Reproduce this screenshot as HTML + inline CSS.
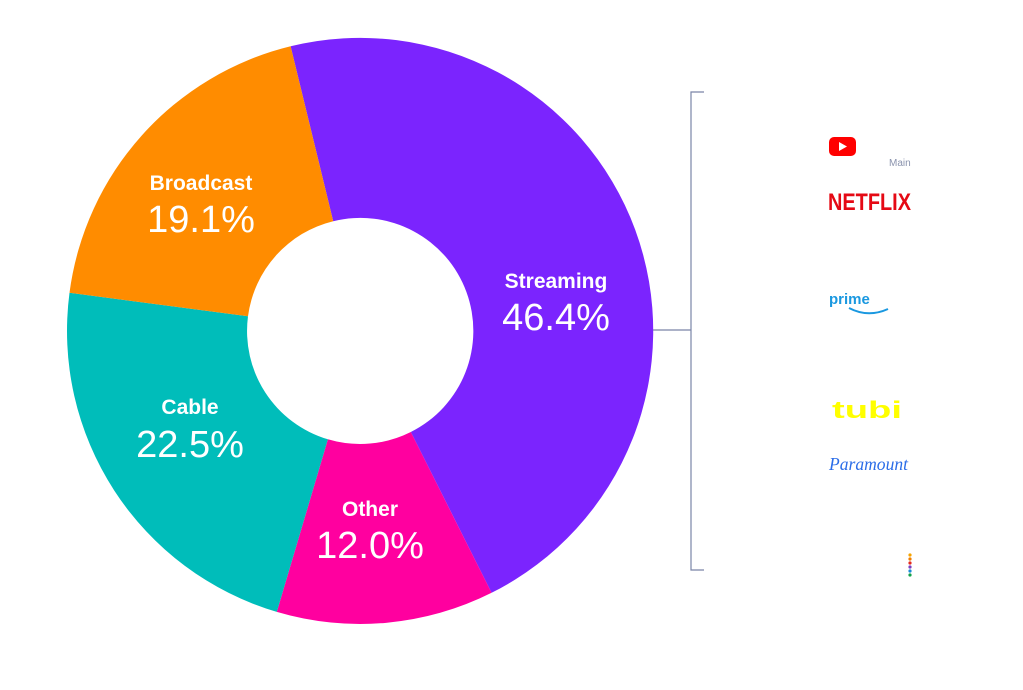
<!DOCTYPE html>
<html><head><style>body{margin:0;background:#fff;}svg{display:block}</style></head><body>
<svg width="1023" height="690" xmlns="http://www.w3.org/2000/svg" font-family="Liberation Sans, sans-serif">
<path d="M290.6,46.3 A293,293 0 0 1 491.6,592.8 L410.8,432 A113,113 0 0 0 333.2,221.2 Z" fill="#7b24fe"/>
<path d="M491.6,592.8 A293,293 0 0 1 276.8,611.9 L327.9,439.3 A113,113 0 0 0 410.8,432 Z" fill="#ff009f"/>
<path d="M276.8,611.9 A293,293 0 0 1 69.5,292.8 L248,316.3 A113,113 0 0 0 327.9,439.3 Z" fill="#00bdba"/>
<path d="M69.5,292.8 A293,293 0 0 1 290.6,46.3 L333.2,221.2 A113,113 0 0 0 248,316.3 Z" fill="#ff8c00"/>
<g fill="#fff" text-anchor="middle">
<text x="556" y="288" font-size="21" font-weight="bold">Streaming</text>
<text x="556" y="330" font-size="38">46.4%</text>
<text x="201" y="190" font-size="21" font-weight="bold">Broadcast</text>
<text x="201" y="232" font-size="38">19.1%</text>
<text x="190" y="414" font-size="21" font-weight="bold">Cable</text>
<text x="190" y="457" font-size="38">22.5%</text>
<text x="370" y="516" font-size="21" font-weight="bold">Other</text>
<text x="370" y="558" font-size="38">12.0%</text>
</g>
<g stroke="#7a85a8" stroke-width="1.2" fill="none">
<path d="M704,92 H691 V570 H704"/>
<path d="M653,330 H691"/>
</g>
<rect x="829" y="137" width="27" height="19" rx="5" fill="#ff0000"/>
<path d="M839,142 L847,146.5 L839,151 Z" fill="#fff"/>
<text x="889" y="166" font-size="10" fill="#8a93ad">Main</text>
<text x="828" y="210" font-size="24" font-weight="bold" fill="#e50914" textLength="83" lengthAdjust="spacingAndGlyphs">NETFLIX</text>
<text x="829" y="304" font-size="15" font-weight="bold" fill="#1a98e0">prime</text>
<path d="M849,308 Q868,318 888,309" stroke="#1a98e0" stroke-width="2" fill="none"/>
<text x="832" y="418" font-size="24" font-weight="bold" fill="#ffff00" textLength="70" lengthAdjust="spacingAndGlyphs">tubi</text>
<text x="829" y="470" font-size="18" font-style="italic" font-family="Liberation Serif, serif" fill="#2b6de8" textLength="79" lengthAdjust="spacingAndGlyphs">Paramount</text>
<g>
<circle cx="910" cy="555" r="1.6" fill="#f5a300"/>
<circle cx="910" cy="559" r="1.6" fill="#f07e00"/>
<circle cx="910" cy="563" r="1.6" fill="#e5281c"/>
<circle cx="910" cy="567" r="1.6" fill="#7b3fc0"/>
<circle cx="910" cy="571" r="1.6" fill="#1a8ad8"/>
<circle cx="910" cy="575" r="1.6" fill="#12a14a"/>
</g>
</svg>
</body></html>
